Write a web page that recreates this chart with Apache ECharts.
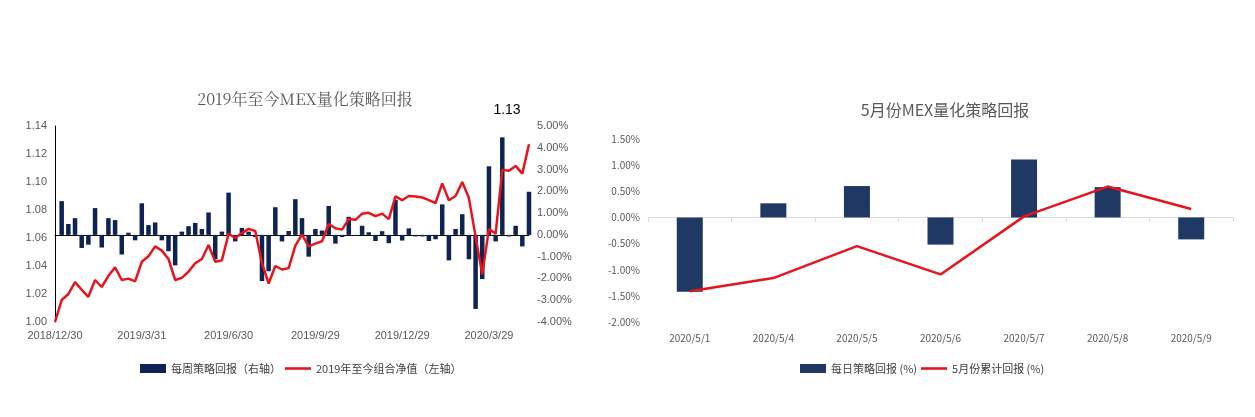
<!DOCTYPE html>
<html>
<head>
<meta charset="utf-8">
<script src="https://cdn.jsdelivr.net/npm/echarts@6/dist/echarts.min.js"></script>
<style>html,body{margin:0;padding:0;background:#fff}#main{width:1255px;height:417px}</style>
</head>
<body>
<div id="main"></div>
<script>
// 左图：2019年至今
var weekStart = [2018, 12, 30];
var weeklyReturn = [null,
  1.55, 0.5, 0.77, -0.6, -0.45, 1.23, -0.58, 0.77, 0.68, -0.9,
  0.1, -0.25, 1.45, 0.45, 0.57, -0.25, -0.75, -1.4, 0.15, 0.4,
  0.55, 0.27, 1.03, -1.12, 0.15, 1.94, -0.3, 0.32, 0.15, -0.1,
  -2.12, -1.67, 1.27, -0.3, 0.18, 1.64, 0.77, -1.0, 0.27, 0.2,
  1.33, -0.4, -0.1, 0.83, -0.05, 0.42, 0.12, -0.28, 0.17, -0.38,
  1.6, -0.26, 0.3, -0.07, -0.07, -0.28, -0.2, 1.4, -1.17, 0.27,
  0.95, -1.12, -3.4, -2.03, 3.15, -0.3, 4.48, -0.07, 0.42, -0.53, 1.98];
var netValue = [
  1.000, 1.0157, 1.020, 1.0285, 1.023, 1.018, 1.030, 1.025, 1.033, 1.039,
  1.030, 1.031, 1.029, 1.043, 1.047, 1.054, 1.051, 1.045, 1.030, 1.0315,
  1.036, 1.042, 1.045, 1.055, 1.043, 1.044, 1.063, 1.060, 1.0635, 1.0665,
  1.065, 1.042, 1.0275, 1.040, 1.0375, 1.0385, 1.0545, 1.0624, 1.054, 1.056,
  1.0577, 1.070, 1.067, 1.066, 1.0735, 1.073, 1.0774, 1.078, 1.0756, 1.0774,
  1.0735, 1.0897, 1.087, 1.090, 1.0897, 1.089, 1.087, 1.085, 1.099, 1.087,
  1.090, 1.100, 1.0885, 1.061, 1.034, 1.0665, 1.063, 1.1087, 1.108, 1.1115,
  1.106, 1.127];

// 右图：5月份
var dayCats = ['2020/5/1', '2020/5/4', '2020/5/5', '2020/5/6', '2020/5/7', '2020/5/8', '2020/5/9'];
var dailyReturn = [-1.42, 0.27, 0.60, -0.52, 1.11, 0.58, -0.42];
var mayCum = [-1.41, -1.16, -0.55, -1.09, 0.02, 0.59, 0.16];

var weekCats = [];
var d0 = new Date(weekStart[0], weekStart[1] - 1, weekStart[2]);
for (var i = 0; i < netValue.length; i++) {
  var d = new Date(d0.getTime() + i * 7 * 86400000);
  weekCats.push(d.getFullYear() + '/' + (d.getMonth() + 1) + '/' + d.getDate());
}

var navy = '#0e2352', navy2 = '#1f3864', red = '#e8141b';
var font = 'Microsoft YaHei, Noto Sans CJK SC, sans-serif';
var lineIcon = 'path://M0,0L30,0L30,3L0,3Z';
var lastIdx = netValue.length - 1;

var chart = echarts.init(document.getElementById('main'));
chart.setOption({
  backgroundColor: '#fff',
  animation: false,
  textStyle: {fontFamily: font},
  title: [
    {text: '2019年至今MEX量化策略回报', left: 300, top: 86, textAlign: 'center',
     textStyle: {fontSize: 16, fontWeight: 'normal', color: '#595959', fontFamily: 'SimSun, Noto Serif CJK SC, serif'}},
    {text: '5月份MEX量化策略回报', left: 940, top: 97, textAlign: 'center',
     textStyle: {fontSize: 16, fontWeight: 'normal', color: '#595959'}}
  ],
  legend: [
    {left: 135, top: 358, itemGap: 4, itemWidth: 26, itemHeight: 9,
     textStyle: {fontSize: 11, color: '#404040'},
     data: [{name: '每周策略回报（右轴）', icon: 'rect'},
            {name: '2019年至今组合净值（左轴）', icon: lineIcon, itemHeight: 3}]},
    {left: 795, top: 358, itemGap: 4, itemWidth: 26, itemHeight: 9,
     textStyle: {fontSize: 11, color: '#404040'},
     data: [{name: '每日策略回报 (%)', icon: 'rect'},
            {name: '5月份累计回报 (%)', icon: lineIcon}]}
  ],
  grid: [
    {left: 55, right: 726, top: 126, bottom: 95},
    {left: 648, right: 22, top: 139, bottom: 95}
  ],
  xAxis: [
    {gridIndex: 0, type: 'category', data: weekCats, boundaryGap: false,
     axisLine: {lineStyle: {color: '#000'}}, axisTick: {show: false},
     axisLabel: {interval: 12, color: '#595959', fontSize: 11, fontFamily: 'Arial'}},
    {gridIndex: 1, type: 'category', data: dayCats,
     axisLine: {onZero: true, lineStyle: {color: '#d9d9d9'}},
     axisTick: {show: true, length: 4, lineStyle: {color: '#d9d9d9'}},
     axisLabel: {color: '#595959', fontSize: 10, margin: 11}}
  ],
  yAxis: [
    {gridIndex: 0, type: 'value', min: 1.00, max: 1.14, interval: 0.02,
     axisLine: {show: true, lineStyle: {color: '#000'}}, splitLine: {show: false},
     axisLabel: {formatter: function (v) { return v.toFixed(2); }, color: '#595959', fontSize: 11, fontFamily: 'Arial'}},
    {gridIndex: 0, type: 'value', min: -4, max: 5, interval: 1, position: 'right',
     axisLine: {show: false}, splitLine: {show: false},
     axisLabel: {formatter: function (v) { return v.toFixed(2) + '%'; }, color: '#595959', fontSize: 11, fontFamily: 'Arial'}},
    {gridIndex: 1, type: 'value', min: -2, max: 1.5, interval: 0.5,
     axisLine: {show: false}, splitLine: {show: false},
     axisLabel: {formatter: function (v) { return v.toFixed(2) + '%'; }, color: '#595959', fontSize: 10}}
  ],
  series: [
    {name: '每周策略回报（右轴）', type: 'bar', xAxisIndex: 0, yAxisIndex: 1,
     data: weeklyReturn, barWidth: 4.5, itemStyle: {color: navy}},
    {name: '2019年至今组合净值（左轴）', type: 'line', xAxisIndex: 0, yAxisIndex: 0,
     data: netValue, showSymbol: false, lineStyle: {color: red, width: 2.5}, itemStyle: {color: red},
     markPoint: {symbol: 'circle', symbolSize: 0,
       data: [{coord: [lastIdx, netValue[lastIdx]], value: netValue[lastIdx].toFixed(2)}],
       label: {show: true, position: 'top', offset: [-22, -22], color: '#000', fontSize: 14, fontFamily: 'Arial'}}},
    {name: '每日策略回报 (%)', type: 'bar', xAxisIndex: 1, yAxisIndex: 2,
     data: dailyReturn, barWidth: 26, itemStyle: {color: navy2}},
    {name: '5月份累计回报 (%)', type: 'line', xAxisIndex: 1, yAxisIndex: 2,
     data: mayCum, showSymbol: false, lineStyle: {color: red, width: 2.5}, itemStyle: {color: red}}
  ]
});
</script>
</body>
</html>
